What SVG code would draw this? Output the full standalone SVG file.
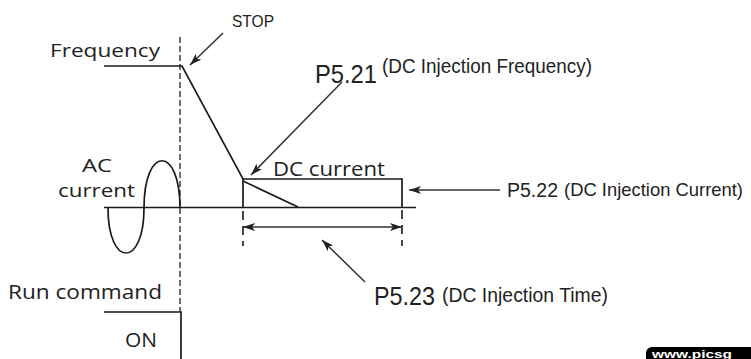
<svg xmlns="http://www.w3.org/2000/svg" width="751" height="359" viewBox="0 0 751 359">
<style>
.ln{stroke:#1a1a1a;stroke-width:1.7;fill:none}
.ds{stroke:#555;stroke-width:1.7;fill:none;stroke-dasharray:6,3}
.ds2{stroke:#1a1a1a;stroke-width:1.6;fill:none;stroke-dasharray:9,6}
.ar{stroke:#333;stroke-width:1.5;fill:none}
.cal{font-family:"Open Sans",Lato,"DejaVu Sans",sans-serif;fill:#222}
.ari{font-family:"Liberation Sans",Arial,sans-serif;fill:#222}
</style>
<defs>
<marker id="ah" viewBox="0 0 12 8" refX="12" refY="4" markerWidth="12" markerHeight="8" markerUnits="userSpaceOnUse" orient="auto">
<path d="M0,0 L12,4 L0,8 L3,4 Z" fill="#222"/>
</marker>
<marker id="ahs" viewBox="0 0 12 8" refX="0" refY="4" markerWidth="12" markerHeight="8" markerUnits="userSpaceOnUse" orient="auto">
<path d="M12,0 L0,4 L12,8 L9,4 Z" fill="#222"/>
</marker>
</defs>
<rect width="751" height="359" fill="#fff"/>

<g id="labels">
<text class="cal" x="50" y="57" font-size="19" textLength="110" lengthAdjust="spacingAndGlyphs">Frequency</text>
<text class="cal" x="82" y="172" font-size="19" textLength="30" lengthAdjust="spacingAndGlyphs">AC</text>
<text class="cal" x="58" y="197" font-size="19" textLength="77" lengthAdjust="spacingAndGlyphs">current</text>
<text class="cal" x="8" y="299" font-size="20" textLength="154" lengthAdjust="spacingAndGlyphs">Run command</text>
<text class="cal" x="125" y="347" font-size="20" textLength="32" lengthAdjust="spacingAndGlyphs">ON</text>
</g>

<g id="stop">
<text class="ari" x="232" y="27" font-size="17" textLength="42" lengthAdjust="spacingAndGlyphs">STOP</text>
</g>

<g id="p521">
<text class="ari" x="315" y="83" font-size="26" textLength="62" lengthAdjust="spacingAndGlyphs">P5.21</text>
<text class="ari" x="382" y="72.5" font-size="20" textLength="210" lengthAdjust="spacingAndGlyphs">(DC Injection Frequency)</text>
</g>

<g id="p522">
<text class="ari" x="507" y="196.5" font-size="20" textLength="51" lengthAdjust="spacingAndGlyphs">P5.22</text>
<text class="ari" x="564" y="196" font-size="19" textLength="179" lengthAdjust="spacingAndGlyphs">(DC Injection Current)</text>
</g>

<g id="p523">
<text class="ari" x="374" y="305" font-size="26" textLength="61" lengthAdjust="spacingAndGlyphs">P5.23</text>
<text class="ari" x="442" y="302" font-size="20" textLength="166" lengthAdjust="spacingAndGlyphs">(DC Injection Time)</text>
</g>

<g id="dc-current">
<text class="cal" x="273" y="176" font-size="20" textLength="112" lengthAdjust="spacingAndGlyphs">DC current</text>
</g>

<g id="connectors">
<line class="ds" x1="180" y1="37" x2="180" y2="312"/>
<polyline class="ln" points="104,66 182,66 243,179 402,179 402,207"/>
<line class="ln" x1="243" y1="179" x2="243" y2="207"/>
<line class="ln" x1="243" y1="181" x2="298" y2="207"/>
<line class="ln" x1="104" y1="207.5" x2="416" y2="207.5"/>
<path class="ln" d="M108,208 C108,268 144,268 144,208 C144,145 180,145 180,208"/>
<polyline class="ln" points="104,312 181,312 181,359"/>
<line class="ds2" x1="243" y1="211" x2="243" y2="246"/>
<line class="ds2" x1="402" y1="210" x2="402" y2="246"/>
<line class="ar" x1="243" y1="227" x2="402" y2="227" marker-start="url(#ahs)" marker-end="url(#ah)"/>
<line class="ar" x1="223" y1="33" x2="190" y2="65" marker-end="url(#ah)"/>
<line class="ar" x1="342" y1="82" x2="251" y2="175" marker-end="url(#ah)"/>
<line class="ar" x1="500" y1="190" x2="409" y2="190" marker-end="url(#ah)"/>
<line class="ar" x1="365" y1="282" x2="322" y2="240" marker-end="url(#ah)"/>
</g>

<g id="watermark">
<rect x="646" y="347" width="120" height="20" rx="6" fill="#000"/>
<text x="652" y="357.5" font-family="'Liberation Sans',Arial,sans-serif" font-weight="bold" font-size="11" fill="#fff" textLength="80" lengthAdjust="spacingAndGlyphs">www.picsg</text>
</g>
</svg>
